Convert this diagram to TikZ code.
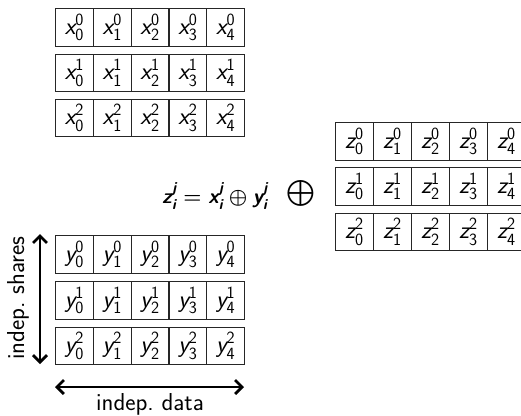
\documentclass[tikz,border=0pt]{standalone}
\usepackage{amsmath}
\usetikzlibrary{arrows.meta}
\newcommand{\cellsym}[3]{$\textsf{\itshape #1}^{\textsf{#2}}_{\textsf{#3}}$}
\begin{document}
\begin{tikzpicture}[x=1pt,y=-1pt,
  font=\sffamily\fontsize{24.5}{29}\selectfont,
  cellbox/.style={draw=black!85, line width=1.1pt, minimum width=37.8pt, minimum height=37.5pt, inner sep=0pt, anchor=north west},
  dimarrow/.style={line width=2.8pt, {Straight Barb[length=7pt,width=14pt]}-{Straight Barb[length=7pt,width=14pt]}}]
\useasboundingbox (0,0) rectangle (521,415);
\clip (0,0) rectangle (521,415);
% x rows
\foreach \j/\top in {0/8,1/53.5,2/98.5}{
  \foreach \i in {0,...,4}{
    \node[cellbox] (x-\j-\i) at (55+37.8*\i,\top) {\cellsym{x}{\j}{\i}};
  }
}
% y rows
\foreach \j/\top in {0/235,1/281,2/326.5}{
  \foreach \i in {0,...,4}{
    \node[cellbox] (y-\j-\i) at (55+37.8*\i,\top) {\cellsym{y}{\j}{\i}};
  }
}
% z rows
\foreach \j/\top in {0/122,1/167,2/212.5}{
  \foreach \i in {0,...,4}{
    \node[cellbox] (z-\j-\i) at (335+38*\i,\top) {\cellsym{z}{\j}{\i}};
  }
}
\node[font=\sffamily\fontsize{21}{25}\selectfont] (formula) at (215,196) {$\boldsymbol{\textsf{\bfseries\itshape z}^{\textsf{\bfseries\itshape j}}_{\textsf{\bfseries\itshape i}} = \textsf{\bfseries\itshape x}^{\textsf{\bfseries\itshape j}}_{\textsf{\bfseries\itshape i}} \oplus \textsf{\bfseries\itshape y}^{\textsf{\bfseries\itshape j}}_{\textsf{\bfseries\itshape i}}}$};
\node[font=\fontsize{20}{24}\selectfont] (bigop) at (301,193) {\scalebox{1.25}{$\boldsymbol{\bigoplus}$}};
% arrows
\coordinate (vtop) at (40,234);
\coordinate (vbot) at (40,364);
\draw[dimarrow] (vtop) -- (vbot);
\node[rotate=90] (shares) at (18,298) {indep.\ shares};
\coordinate (hl) at (55,387);
\coordinate (hr) at (244,387);
\draw[dimarrow] (hl) -- (hr);
\node (data) at (150,404) {indep.\ data};
\end{tikzpicture}
\end{document}
